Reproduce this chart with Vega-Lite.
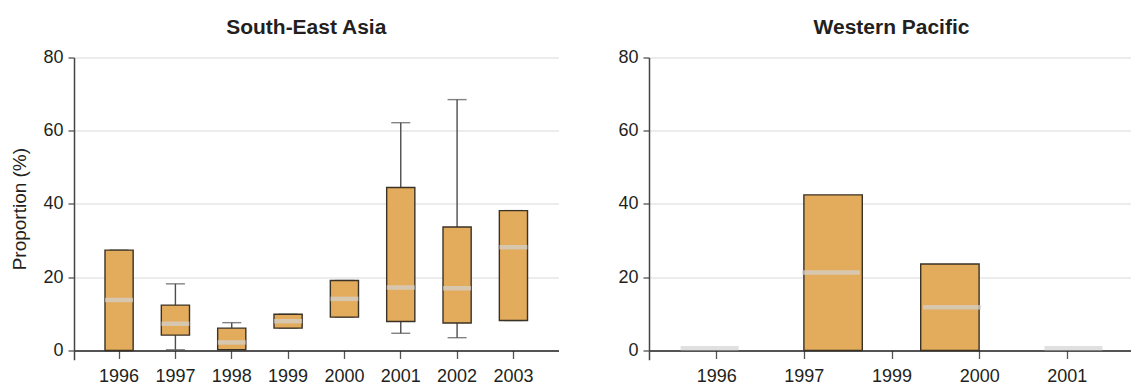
{
  "$schema": "https://vega.github.io/schema/vega-lite/v6.json",
  "background": "white",
  "padding": {"left": 10, "top": 17.5, "right": 0, "bottom": 0},
  "spacing": 58,
  "config": {
    "view": {"stroke": null},
    "font": "Liberation Sans",
    "axis": {
      "labelFont": "Liberation Sans",
      "labelFontSize": 18,
      "labelColor": "#231f20",
      "titleFont": "Liberation Sans",
      "titleFontSize": 19,
      "titleFontWeight": "normal",
      "titleColor": "#231f20",
      "tickColor": "#555555",
      "tickSize": 6,
      "tickWidth": 1.3,
      "domainColor": "#444444",
      "domainWidth": 1.5,
      "gridColor": "#d9d9d9",
      "gridWidth": 1.2
    },
    "title": {
      "font": "Liberation Sans",
      "fontSize": 21,
      "fontWeight": "bold",
      "color": "#231f20",
      "anchor": "middle",
      "offset": 10
    }
  },
  "datasets": {
    "sea": [
      {"year": "1996", "min": 0, "q1": 0, "median": 13.8, "q3": 27.4, "max": 27.4},
      {"year": "1997", "min": 0.2, "q1": 4.2, "median": 7.3, "q3": 12.4, "max": 18.2},
      {"year": "1998", "min": 0.2, "q1": 0.2, "median": 2.2, "q3": 6.1, "max": 7.6},
      {"year": "1999", "min": 6.1, "q1": 6.1, "median": 8.0, "q3": 9.9, "max": 9.9},
      {"year": "2000", "min": 9.1, "q1": 9.1, "median": 14.1, "q3": 19.1, "max": 19.1},
      {"year": "2001", "min": 4.7, "q1": 7.9, "median": 17.2, "q3": 44.5, "max": 62.2},
      {"year": "2002", "min": 3.5, "q1": 7.5, "median": 17.0, "q3": 33.7, "max": 68.5},
      {"year": "2003", "min": 8.2, "q1": 8.2, "median": 28.2, "q3": 38.2, "max": 38.2}
    ],
    "wp": [
      {"year": "1996", "q1": null, "median": 0.6, "q3": null},
      {"year": "1997", "q1": 0, "median": 21.3, "q3": 42.5},
      {"year": "2000", "q1": 0, "median": 11.8, "q3": 23.6},
      {"year": "2001", "q1": null, "median": 0.6, "q3": null}
    ],
    "wpaxis": [
      {"label": "1996"}, {"label": "1997"}, {"label": "1999"}, {"label": "2000"}, {"label": "2001"}
    ]
  },
  "hconcat": [
    {
      "width": 484.5,
      "height": 302.3,
      "title": {"text": "South-East Asia", "dx": -10},
      "data": {"name": "sea"},
      "encoding": {
        "x": {
          "field": "year",
          "type": "nominal",
          "scale": {"domain": ["1996", "1997", "1998", "1999", "2000", "2001", "2002", "2003"], "paddingInner": 0.5, "paddingOuter": 0.55},
          "axis": {"title": null, "labelAngle": 0, "offset": -9.3, "labelPadding": 9, "tickSize": 8, "domainColor": "#222222"}
        }
      },
      "layer": [
        {
          "mark": {"type": "rule", "color": "#4d4d4d", "strokeWidth": 1.4},
          "encoding": {
            "y": {
              "field": "min",
              "type": "quantitative",
              "scale": {"domain": [-2.54, 80], "nice": false, "zero": false},
              "axis": {"title": "Proportion (%)", "values": [0, 20, 40, 60, 80], "labelPadding": 5, "titlePadding": 13}
            },
            "y2": {"field": "max"}
          }
        },
        {
          "mark": {"type": "tick", "color": "#4d4d4d", "size": 19, "thickness": 1.4},
          "encoding": {"y": {"field": "min", "type": "quantitative"}}
        },
        {
          "mark": {"type": "tick", "color": "#4d4d4d", "size": 19, "thickness": 1.4},
          "encoding": {"y": {"field": "max", "type": "quantitative"}}
        },
        {
          "mark": {"type": "bar", "fill": "#e3ab5c", "stroke": "#3b3226", "strokeWidth": 1.4},
          "encoding": {"y": {"field": "q1", "type": "quantitative"}, "y2": {"field": "q3"}}
        },
        {
          "mark": {"type": "tick", "color": "#d3d3d3", "size": 28, "thickness": 4.5},
          "encoding": {"y": {"field": "median", "type": "quantitative"}}
        }
      ]
    },
    {
      "width": 485,
      "height": 302.3,
      "title": {"text": "Western Pacific"},
      "layer": [
        {
          "data": {"name": "wp"},
          "mark": {"type": "bar", "fill": "#e3ab5c", "stroke": "#3b3226", "strokeWidth": 1.4},
          "encoding": {
            "x": {
              "field": "year",
              "type": "nominal",
              "scale": {"domain": ["1996", "1997", "2000", "2001"], "paddingInner": 0.5, "paddingOuter": 0.326},
              "axis": null
            },
            "y": {
              "field": "q1",
              "type": "quantitative",
              "scale": {"domain": [-2.54, 80], "nice": false, "zero": false},
              "axis": {"title": null, "values": [0, 20, 40, 60, 80], "labelPadding": 5}
            },
            "y2": {"field": "q3"}
          }
        },
        {
          "data": {"name": "wp"},
          "mark": {"type": "tick", "color": "#d3d3d3", "size": 58, "thickness": 4.5},
          "encoding": {
            "x": {"field": "year", "type": "nominal", "axis": null},
            "y": {"field": "median", "type": "quantitative"}
          }
        },
        {
          "data": {"name": "wpaxis"},
          "mark": {"type": "rule", "strokeOpacity": 0},
          "encoding": {
            "x": {
              "field": "label",
              "type": "nominal",
              "scale": {"type": "point", "domain": ["1996", "1997", "1999", "2000", "2001"], "padding": 0.767},
              "axis": {"title": null, "orient": "bottom", "labelAngle": 0, "offset": -9.3, "labelPadding": 9, "tickSize": 8, "domainColor": "#222222"}
            }
          }
        }
      ],
      "resolve": {"scale": {"x": "independent"}, "axis": {"x": "independent"}}
    }
  ]
}
